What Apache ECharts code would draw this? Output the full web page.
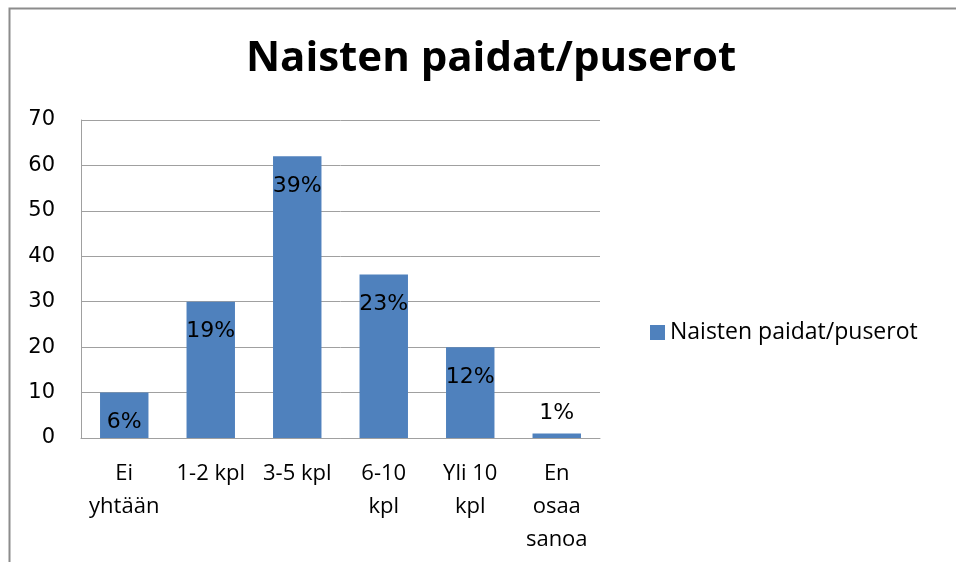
<!DOCTYPE html>
<html>
<head>
<meta charset="utf-8">
<script src="https://cdn.jsdelivr.net/npm/echarts@6/dist/echarts.min.js"></script>
<style>
  html, body { margin: 0; padding: 0; background: #fff; }
  #main { width: 956px; height: 562px; }
</style>
</head>
<body>
<div id="main"></div>
<script>
  var categories = ["Ei\nyhtään", "1-2 kpl", "3-5 kpl", "6-10\nkpl", "Yli 10\nkpl", "En\nosaa\nsanoa"];
  var values = [10, 30, 62, 36, 20, 1];
  var percents = ["6%", "19%", "39%", "23%", "12%", "1%"];
  var seriesName = "Naisten paidat/puserot";

  var myChart = echarts.init(document.getElementById("main"));

  // lyhyt pylväs saa tekstin yläpuolelle
  var barData = values.map(function (v, i) {
    var item = { value: v };
    if (v < 5) {
      item.label = { position: "top", distance: 9 };
    }
    return item;
  });

  var option = {
    animation: false,
    title: {
      text: "Naisten paidat/puserot",
      left: 486,
      top: 33,
      textAlign: "center",
      textStyle: {
        fontFamily: "Open Sans",
        fontWeight: "bold",
        fontSize: 42,
        color: "#000"
      }
    },
    legend: {
      data: [seriesName],
      left: 645,
      top: 316,
      itemWidth: 15,
      itemHeight: 15,
      itemGap: 7,
      icon: "rect",
      textStyle: {
        fontFamily: "Open Sans",
        fontSize: 23,
        color: "#000"
      }
    },
    grid: {
      left: 81,
      top: 120,
      width: 519,
      height: 318
    },
    xAxis: {
      type: "category",
      data: categories,
      axisTick: { show: false },
      axisLine: { lineStyle: { color: "#a0a0a0", width: 1 } },
      axisLabel: {
        color: "#000",
        fontFamily: "Open Sans",
        fontSize: 22,
        lineHeight: 33,
        margin: 19,
        interval: 0
      }
    },
    yAxis: {
      type: "value",
      min: 0,
      max: 70,
      interval: 10,
      axisLine: { show: true, lineStyle: { color: "#a0a0a0", width: 1 } },
      axisTick: { show: false },
      axisLabel: {
        color: "#000",
        fontFamily: "DejaVu Sans",
        fontSize: 21,
        margin: 26
      },
      splitLine: { lineStyle: { color: "#a0a0a0", width: 1 } }
    },
    series: [
      {
        name: seriesName,
        type: "bar",
        data: barData,
        barWidth: "56%",
        itemStyle: { color: "#4f81bd" },
        label: {
          show: true,
          position: "insideTop",
          distance: 19,
          color: "#000",
          fontFamily: "DejaVu Sans",
          fontSize: 22,
          formatter: function (p) {
            return percents[p.dataIndex];
          }
        }
      }
    ],
    graphic: [
      {
        type: "rect",
        shape: { x: 9.5, y: 8.5, width: 960, height: 600 },
        style: { fill: "none", stroke: "#8c8c8c", lineWidth: 2 }
      }
    ]
  };

  myChart.setOption(option);
</script>
</body>
</html>
